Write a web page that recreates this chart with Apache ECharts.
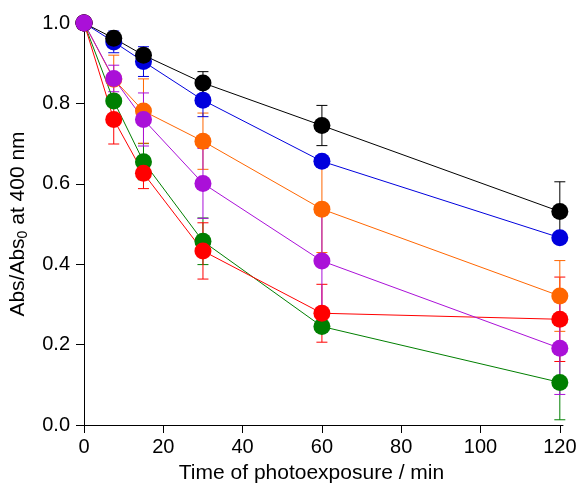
<!DOCTYPE html>
<html>
<head>
<meta charset="utf-8">
<script src="https://cdn.jsdelivr.net/npm/echarts@6/dist/echarts.min.js"></script>
<style>
  html, body { margin: 0; padding: 0; background: #fff; }
  #chart { width: 580px; height: 483px; }
</style>
</head>
<body>
<div id="chart"></div>
<script>
// Exposure times (min)
const times = [0, 7.5, 15, 30, 60, 120];
const xTicks = [0, 20, 40, 60, 80, 100, 120];

// Relative absorbance at 400 nm and standard deviations, one pair per sample
const greenVals  = [1.0, 0.806, 0.655, 0.457, 0.245, 0.106];
const greenErr   = [0, 0.012, 0.045, 0.058, 0.012, 0.093];
const redVals    = [1.0, 0.760, 0.626, 0.433, 0.278, 0.263];
const redErr     = [0, 0.061, 0.038, 0.07, 0.072, 0.105];
const orangeVals = [1.0, 0.86, 0.781, 0.706, 0.537, 0.321];
const orangeErr  = [0, 0.06, 0.08, 0.07, 0.108, 0.088];
const blueVals   = [1.0, 0.953, 0.904, 0.808, 0.656, 0.466];
const blueErr    = [0, 0.027, 0.037, 0.041, 0.012, 0.01];
const blackVals  = [1.0, 0.962, 0.920, 0.851, 0.745, 0.531];
const blackErr   = [0, 0.01, 0.015, 0.028, 0.05, 0.074];
const purpleVals = [1.0, 0.862, 0.760, 0.601, 0.408, 0.191];
const purpleErr  = [0, 0.033, 0.066, 0.087, 0.115, 0.115];

const traces = [
  { name: 'green',  color: '#007f00', vals: greenVals,  err: greenErr },
  { name: 'red',    color: '#ff0000', vals: redVals,    err: redErr },
  { name: 'orange', color: '#ff6600', vals: orangeVals, err: orangeErr },
  { name: 'blue',   color: '#0000dd', vals: blueVals,   err: blueErr },
  { name: 'black',  color: '#000000', vals: blackVals,  err: blackErr },
  { name: 'purple', color: '#aa10d8', vals: purpleVals, err: purpleErr }
];

const FONT = 'Liberation Sans, Arial, sans-serif';

function errorBarSeries(t) {
  return {
    type: 'custom',
    name: t.name + '-err',
    z: 1,
    silent: true,
    data: times.map((x, i) => [x, t.vals[i] - t.err[i], t.vals[i] + t.err[i]]),
    encode: { x: 0, y: [1, 2] },
    renderItem: function (params, api) {
      const lo = api.coord([api.value(0), api.value(1)]);
      const hi = api.coord([api.value(0), api.value(2)]);
      const half = 5.5;
      const style = { stroke: t.color, lineWidth: 1 };
      return {
        type: 'group',
        children: [
          { type: 'line', shape: { x1: lo[0], y1: lo[1], x2: hi[0], y2: hi[1] }, style: style },
          { type: 'line', shape: { x1: lo[0] - half, y1: lo[1], x2: lo[0] + half, y2: lo[1] }, style: style },
          { type: 'line', shape: { x1: hi[0] - half, y1: hi[1], x2: hi[0] + half, y2: hi[1] }, style: style }
        ]
      };
    }
  };
}

function lineSeries(t) {
  return {
    type: 'line',
    name: t.name,
    z: 2,
    data: times.map((x, i) => [x, t.vals[i]]),
    symbol: 'circle',
    symbolSize: 17,
    showAllSymbol: true,
    lineStyle: { color: t.color, width: 1 },
    itemStyle: { color: t.color, borderWidth: 0 },
    emphasis: { disabled: true }
  };
}

const series = [];
traces.forEach(t => series.push(errorBarSeries(t)));
traces.forEach(t => series.push(lineSeries(t)));

const chart = echarts.init(document.getElementById('chart'), null, { renderer: 'canvas' });
chart.setOption({
  animation: false,
  backgroundColor: '#ffffff',
  grid: { left: 84, right: 17, top: 23, bottom: 58, outerBoundsMode: 'none' },
  xAxis: {
    type: 'value',
    min: 0,
    max: 120.8,
    name: 'Time of photoexposure / min',
    nameLocation: 'middle',
    nameGap: 38,
    nameTextStyle: { fontFamily: FONT, fontSize: 21, color: '#000', padding: [0, 24, 0, 0] },
    splitLine: { show: false },
    axisLine: { show: true, onZero: false, lineStyle: { color: '#000', width: 1 } },
    axisTick: { show: true, inside: false, length: 8, customValues: xTicks, lineStyle: { color: '#000' } },
    axisLabel: { customValues: xTicks, fontFamily: FONT, fontSize: 20, color: '#000', margin: 12 }
  },
  yAxis: {
    type: 'value',
    min: 0,
    max: 1.0,
    interval: 0.2,
    name: '{a|Abs/Abs}{s|0}{a| at 400 nm}',
    nameLocation: 'middle',
    nameGap: 54,
    nameTextStyle: {
      fontFamily: FONT, fontSize: 21, color: '#000',
      rich: {
        a: { fontFamily: FONT, fontSize: 21, color: '#000', lineHeight: 24, verticalAlign: 'middle' },
        s: { fontFamily: FONT, fontSize: 14, color: '#000', lineHeight: 24, verticalAlign: 'middle', padding: [10, 0, 0, 0] }
      }
    },
    splitLine: { show: false },
    axisLine: { show: true, onZero: false, lineStyle: { color: '#000', width: 1 } },
    axisTick: { show: true, inside: false, length: 8, lineStyle: { color: '#000' } },
    axisLabel: {
      fontFamily: FONT, fontSize: 20, color: '#000', margin: 14,
      formatter: v => v.toFixed(1)
    }
  },
  series: series
});
</script>
</body>
</html>
